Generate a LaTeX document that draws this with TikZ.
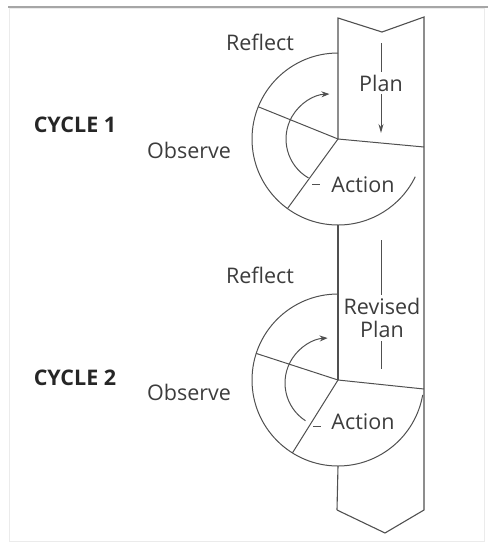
\documentclass[tikz,border=0pt]{standalone}
\usepackage{fontspec}
\setmainfont{Open Sans}
\usetikzlibrary{arrows.meta,calc}
\definecolor{inkgray}{HTML}{3C3C3C}
\definecolor{linegray}{HTML}{505050}
\tikzset{
  lbl/.style={font=\fontsize{21.5}{23}\selectfont, text=inkgray, inner sep=0pt},
  cyclbl/.style={font=\fontsize{21.5}{23}\selectfont\bfseries, text=black!85, inner sep=0pt},
  rim/.style={line width=1pt, draw=linegray},
  colside/.style={line width=1.1pt, draw=linegray},
  turn/.style={-{Stealth[length=8pt,width=6pt]}, line width=1pt, draw=linegray},
  flow/.style={-{Stealth[length=9pt,width=5pt]}, line width=1pt, draw=linegray},
}

\begin{document}
\begin{tikzpicture}[x=1pt,y=1pt]
  \useasboundingbox (0,0) rectangle (488,-542);
  % frame
  \draw[black!8, line width=1pt] (9,-8) rectangle (484,-541);
  \draw[black!35, line width=2pt] (8,-7) -- (488,-7);

  % the plan column
  \coordinate (tl) at (338,-18);
  \coordinate (tn) at (382,-32);
  \coordinate (tr) at (424,-17);
  \coordinate (bl) at (337,-510);
  \coordinate (bn) at (385,-533);
  \coordinate (br) at (424,-510);
  \coordinate (O1) at (338,-139);
  \coordinate (O2) at (338,-380);
  \draw[colside] (bl) -- (bn) -- (br) -- (tr) -- (tn) -- (tl) -- (O1);
  \draw[colside] ($(O1)+(0,-86)$) -- (O2);
  \draw[colside] ($(O2)+(0,-86)$) -- (bl);

  % cycle 1
  \draw[rim] ($(O1)+(90:86)$) arc[start angle=90, end angle=334, radius=86];
  \draw[rim] (O1) -- ($(O1)+(158:86)$);
  \draw[rim] (O1) -- ($(O1)+(234:86)$);
  \coordinate (d1) at (424,-147);
  \draw[rim] (O1) -- (d1);
  \coordinate (i1) at (331,-139);
  \draw[turn] ($(i1)+(240:45)$) arc[start angle=240, end angle=92, radius=45];
  \coordinate (m1) at (312,-184);
  \draw[rim] (m1) -- ++(8,0);
  \coordinate (p1a) at (381,-43);
  \coordinate (p1b) at (381,-133);
  \draw[flow] (p1a) -- (p1b);
  \node[lbl, fill=white, inner sep=3pt] (planA) at (381,-83) {Plan};
  \node[lbl] (actionA) at (363,-185) {Action};
  \node[lbl] (reflectA) at (260,-42) {Reflect};
  \node[lbl] (observeA) at (189,-150) {Observe};
  \node[cyclbl] (cycleA) at (75,-125) {CYCLE 1};

  % cycle 2
  \draw[rim] ($(O2)+(90:86)$) arc[start angle=90, end angle=350, radius=86];
  \draw[rim] (O2) -- ($(O2)+(162:86)$);
  \draw[rim] (O2) -- ($(O2)+(238:86)$);
  \coordinate (d2) at (424,-389);
  \draw[rim] (O2) -- (d2);
  \coordinate (i2) at (330,-383);
  \draw[turn] ($(i2)+(237:45)$) arc[start angle=237, end angle=93, radius=45];
  \coordinate (m2) at (313,-426);
  \draw[rim] (m2) -- ++(8,0);
  \coordinate (p2a) at (381,-240);
  \coordinate (p2b) at (381,-369);
  \draw[rim] (p2a) -- (p2b);
  \node[lbl, fill=white, inner sep=3pt, align=center] (planB) at (382,-318) {Revised\\Plan};
  \node[lbl] (actionB) at (363,-422) {Action};
  \node[lbl] (reflectB) at (260,-275) {Reflect};
  \node[lbl] (observeB) at (189,-392) {Observe};
  \node[cyclbl] (cycleB) at (75,-378) {CYCLE 2};
\end{tikzpicture}
\end{document}
